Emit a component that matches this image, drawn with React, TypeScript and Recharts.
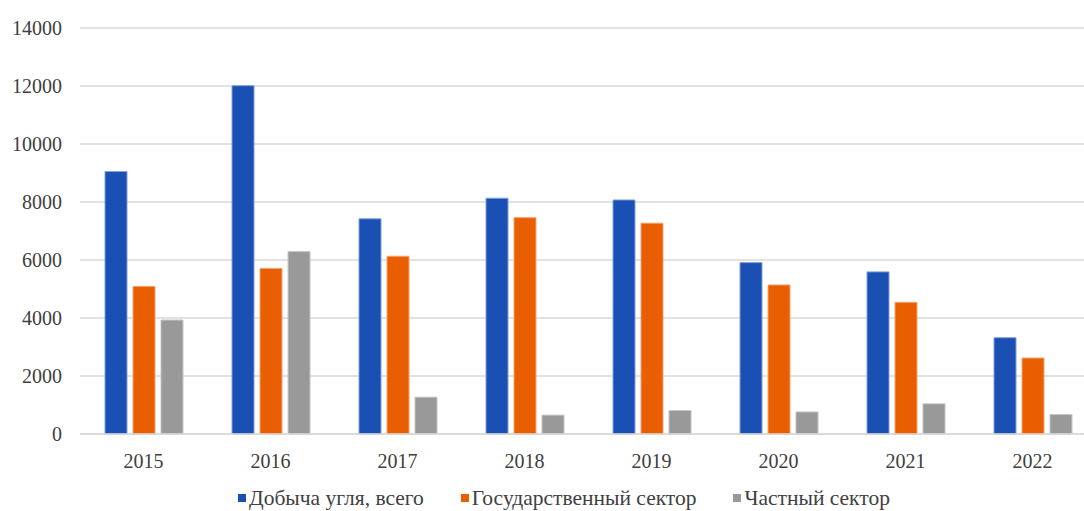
import { Bar, BarChart, CartesianGrid, Legend, XAxis, YAxis } from "recharts";

const years = ["2015", "2016", "2017", "2018", "2019", "2020", "2021", "2022"];
const totalOutput = [9050, 12010, 7420, 8130, 8070, 5910, 5590, 3320];
const stateSector = [5090, 5710, 6130, 7460, 7270, 5140, 4540, 2620];
const privateSector = [3930, 6290, 1270, 650, 810, 760, 1040, 670];
const yTicks = [0, 2000, 4000, 6000, 8000, 10000, 12000, 14000];

const seriesNames = ["Добыча угля, всего", "Государственный сектор", "Частный сектор"];
const colors = ["#1a4fb3", "#e85e00", "#999999"];
const edges = ["#7f9fdc", "#f5a46e", "#c4c4c4"];

const data = years.map((year, i) => ({
  year,
  total: totalOutput[i],
  state: stateSector[i],
  private: privateSector[i],
}));

const font = '"Times New Roman", "Liberation Serif", serif';
const textColor = "#404040";
const tickStyle = { fontFamily: font, fontSize: 20, fill: textColor };

const LegendRow = () => (
  <div style={{ display: "flex", alignItems: "center", fontFamily: font, fontSize: 21.5, lineHeight: "26px", color: textColor, whiteSpace: "nowrap" }}>
    {seriesNames.map((name, i) => (
      <div key={name} style={{ display: "flex", alignItems: "center", marginRight: i < 2 ? 37 : 0 }}>
        <span style={{ width: 8, height: 8, background: colors[i], marginRight: 3, display: "inline-block" }} />
        <span>{name}</span>
      </div>
    ))}
  </div>
);

export default function App() {
  return (
    <div style={{ position: "absolute", left: 0, top: 0, width: 1084, height: 511, overflow: "hidden", background: "#fff", fontFamily: font }}>
      <BarChart
        width={1100}
        height={511}
        data={data}
        margin={{ top: 28, right: 4, left: 0, bottom: 47 }}
        barSize={22}
        barGap={6}
        style={{ fontFamily: font }}
      >
        <CartesianGrid vertical={false} stroke="#d9d9d9" strokeWidth={1.5} />
        <XAxis
          dataKey="year"
          height={30}
          tickLine={false}
          tickSize={0}
          tickMargin={20}
          axisLine={{ stroke: "#d9d9d9", strokeWidth: 1.5 }}
          tick={tickStyle}
        />
        <YAxis
          width={80}
          domain={[0, 14000]}
          ticks={yTicks}
          axisLine={false}
          tickLine={false}
          tickSize={0}
          tickMargin={18}
          tick={tickStyle}
        />
        <Legend
          layout="horizontal"
          verticalAlign="middle"
          align="center"
          content={<LegendRow />}
          wrapperStyle={{ top: 485, left: 238, width: "auto" }}
        />
        <Bar dataKey="total" name={seriesNames[0]} fill={colors[0]} stroke={edges[0]} strokeWidth={1} isAnimationActive={false} />
        <Bar dataKey="state" name={seriesNames[1]} fill={colors[1]} stroke={edges[1]} strokeWidth={1} isAnimationActive={false} />
        <Bar dataKey="private" name={seriesNames[2]} fill={colors[2]} stroke={edges[2]} strokeWidth={1} isAnimationActive={false} />
      </BarChart>
    </div>
  );
}
